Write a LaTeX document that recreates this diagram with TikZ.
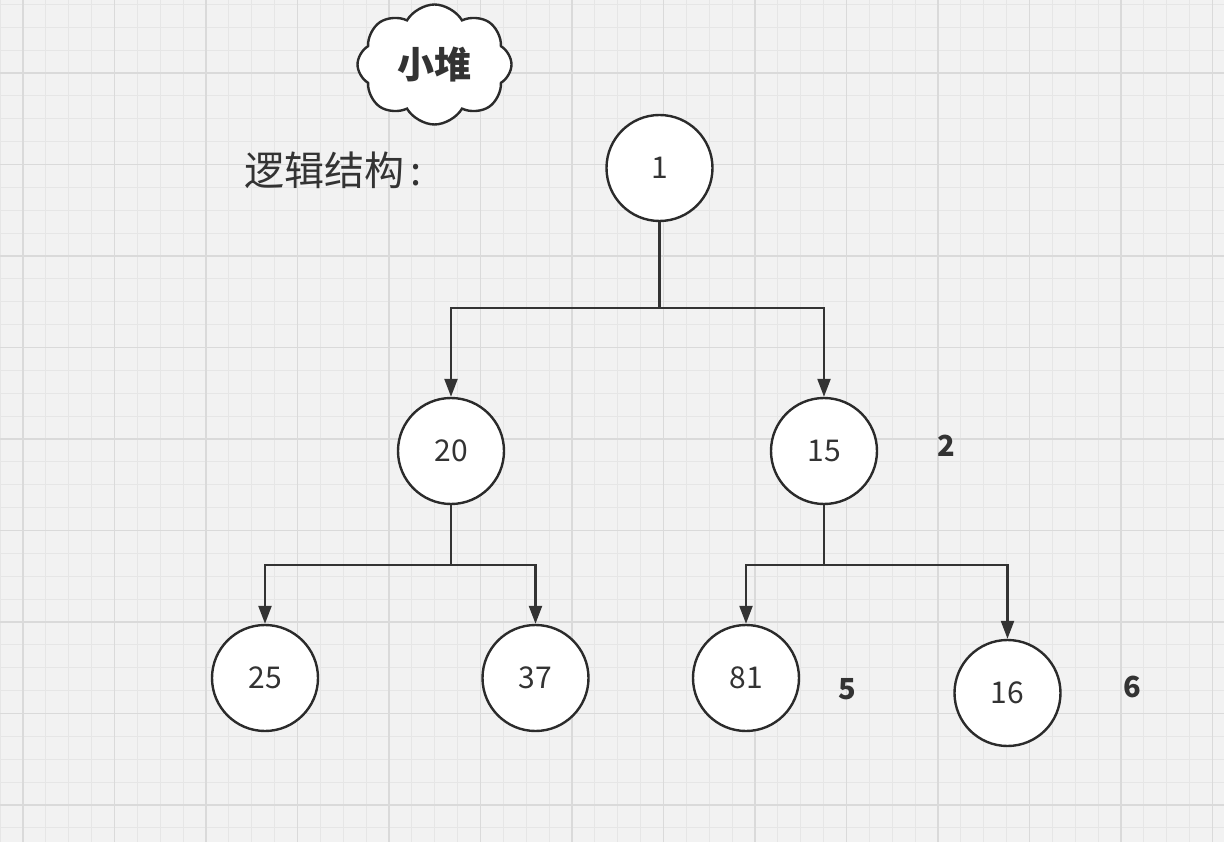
\documentclass[tikz,border=0pt]{standalone}
\usepackage{fontspec}
\setmainfont{Noto Sans CJK SC}
\usetikzlibrary{arrows.meta,shapes.symbols}
\definecolor{bg}{HTML}{F2F2F2}
\definecolor{minorc}{HTML}{E6E6E6}
\definecolor{majorc}{HTML}{DADADA}
\definecolor{ink}{HTML}{333333}
\definecolor{edge}{HTML}{2B2B2B}
\tikzset{
  heapnode/.style={circle,draw=edge,line width=2.4pt,fill=white,minimum size=106pt,inner sep=0pt,
    text=ink,font=\fontsize{30}{30}\selectfont},
  arr/.style={draw=ink,line width=2.3pt,-{Triangle[length=18pt,width=13pt]}},
  lbl/.style={text=ink,font=\fontsize{29}{29}\selectfont\bfseries,inner sep=0pt},
}
\begin{document}
\begin{tikzpicture}[x=1pt,y=-1pt]
\useasboundingbox (0,0) rectangle (1224,842);
\fill[bg] (0,0) rectangle (1224,842);
% grid
\foreach \i in {-1,...,53} {
  \draw[minorc,line width=1pt] ({23+\i*22.875},0) -- ({23+\i*22.875},842);
}
\foreach \i in {-4,...,34} {
  \draw[minorc,line width=1pt] (0,{73+\i*22.875}) -- (1224,{73+\i*22.875});
}
\foreach \i in {0,...,13} {
  \draw[majorc,line width=1.2pt] ({23+\i*91.5},0) -- ({23+\i*91.5},842);
}
\foreach \i in {-1,...,8} {
  \draw[majorc,line width=1.2pt] (0,{73+\i*91.5}) -- (1224,{73+\i*91.5});
}
% cloud title
\node[cloud,cloud puffs=8,cloud puff arc=120,draw=edge,line width=2.4pt,fill=white,
  minimum width=154pt,minimum height=120pt,inner sep=0pt,aspect=1.3,
  text=ink,font=\fontsize{37}{37}\selectfont\bfseries] (title) at (434.5,64.5) {小堆};
\node[text=ink,font=\fontsize{40}{40}\selectfont,anchor=west,inner sep=0pt] (logic) at (244,170) {逻辑结构\kern6pt:};
% nodes
\node[heapnode] (n1) at (659.5,168) {1};
\node[heapnode] (n20) at (451,451) {20};
\node[heapnode] (n15) at (824,451) {15};
\node[heapnode] (n25) at (265,678) {25};
\node[heapnode] (n37) at (535.5,678) {37};
\node[heapnode] (n81) at (746,678) {81};
\node[heapnode] (n16) at (1007.5,693) {16};
% labels
\node[lbl] (l2) at (946,446) {2};
\node[lbl] (l5) at (847,689) {5};
\node[lbl] (l6) at (1132,687) {6};
% bends
\coordinate (b1) at (659.5,308);
\coordinate (b20) at (451,565);
\coordinate (b15) at (824,565);
% connectors
\draw[arr] (n1.south) -- (b1) -| (n20.north);
\draw[arr] (n1.south) -- (b1) -| (n15.north);
\draw[arr] (n20.south) -- (b20) -| (n25.north);
\draw[arr] (n20.south) -- (b20) -| (n37.north);
\draw[arr] (n15.south) -- (b15) -| (n81.north);
\draw[arr] (n15.south) -- (b15) -| (n16.north);
\end{tikzpicture}
\end{document}
